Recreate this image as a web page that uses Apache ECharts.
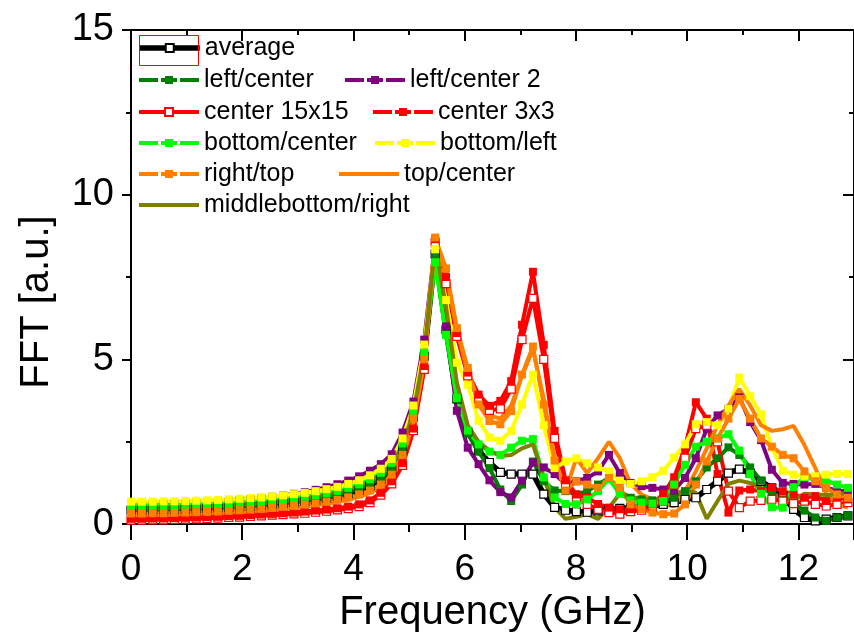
<!DOCTYPE html>
<html>
<head>
<meta charset="utf-8">
<title>FFT spectra</title>
<script src="https://cdn.jsdelivr.net/npm/echarts@6/dist/echarts.min.js"></script>
<style>
  html, body { margin: 0; padding: 0; background: #fff; }
  #chart { width: 854px; height: 638px; }
</style>
</head>
<body>
<div id="chart"></div>
<script>
// Frequency samples (GHz)
const freqGHz = [
  0, 0.195, 0.391, 0.586, 0.781, 0.977, 1.172, 1.367, 1.563, 1.758,
  1.953, 2.148, 2.344, 2.539, 2.734, 2.93, 3.125, 3.32, 3.516, 3.711,
  3.906, 4.102, 4.297, 4.492, 4.688, 4.883, 5.078, 5.273, 5.469, 5.664,
  5.859, 6.055, 6.25, 6.445, 6.641, 6.836, 7.031, 7.227, 7.422, 7.617,
  7.813, 8.008, 8.203, 8.398, 8.594, 8.789, 8.984, 9.18, 9.375, 9.57,
  9.766, 9.961, 10.156, 10.352, 10.547, 10.742, 10.938, 11.133, 11.328, 11.523,
  11.719, 11.914, 12.109, 12.305, 12.5, 12.695, 12.891
];

// FFT amplitude per probe position [a.u.]
const average = [
  0.42,0.42,0.43,0.43,0.44,0.45,0.46,0.47,0.49,0.50,
  0.52,0.54,0.56,0.59,0.62,0.65,0.69,0.73,0.78,0.84,
  0.92,1.02,1.16,1.35,1.65,2.25,3.25,5.10,8.20,5.90,
  3.80,2.80,2.23,1.87,1.57,1.52,1.52,1.52,0.91,0.51,
  0.42,0.38,0.36,0.40,0.45,0.48,0.50,0.52,0.55,0.60,
  0.65,0.75,0.80,1.05,1.30,1.55,1.67,1.55,1.30,1.10,
  0.85,0.45,0.20,0.10,0.15,0.20,0.25
];
const leftCenter = [
  0.45,0.45,0.46,0.46,0.47,0.48,0.49,0.50,0.52,0.53,
  0.55,0.57,0.60,0.62,0.65,0.68,0.72,0.77,0.82,0.89,
  0.97,1.07,1.21,1.40,1.70,2.30,3.30,5.10,8.10,5.90,
  3.80,2.75,2.20,1.70,1.05,0.70,1.20,1.90,1.30,1.02,
  1.00,0.90,1.00,1.20,1.40,1.00,0.80,0.75,0.72,0.72,
  0.80,1.00,1.30,1.72,2.00,2.33,2.10,1.72,1.32,0.92,
  0.75,0.61,0.41,0.20,0.10,0.20,0.25
];
const leftCenter2 = [
  0.58,0.58,0.59,0.60,0.61,0.62,0.64,0.66,0.68,0.70,
  0.73,0.76,0.79,0.83,0.87,0.92,0.97,1.04,1.12,1.21,
  1.32,1.45,1.62,1.82,2.12,2.78,3.72,5.60,8.50,6.00,
  3.44,2.32,1.82,1.33,0.97,0.81,1.32,1.87,1.72,1.52,
  1.22,1.30,1.40,1.60,2.10,1.55,1.25,1.15,1.10,1.05,
  1.02,1.40,2.00,2.90,3.30,3.50,3.85,3.10,2.55,1.65,
  1.25,1.22,1.20,1.22,1.10,1.02,1.00
];
const center15x15 = [
  0.12,0.12,0.13,0.13,0.14,0.15,0.16,0.17,0.18,0.20,
  0.21,0.23,0.25,0.27,0.29,0.31,0.33,0.36,0.39,0.43,
  0.47,0.53,0.65,0.88,1.22,1.78,2.84,4.70,8.55,7.30,
  5.70,4.50,3.80,3.45,3.50,4.10,5.60,6.85,5.00,2.60,
  1.20,0.80,0.60,0.45,0.35,0.30,0.38,0.42,0.50,0.70,
  1.20,2.00,2.90,3.00,2.50,1.00,0.50,0.70,0.72,0.75,
  0.70,0.62,0.70,0.60,0.55,0.60,0.65
];
const center3x3 = [
  0.16,0.16,0.17,0.17,0.18,0.19,0.20,0.21,0.22,0.24,
  0.25,0.27,0.29,0.31,0.33,0.35,0.38,0.41,0.44,0.48,
  0.53,0.60,0.72,0.95,1.30,1.85,2.90,4.80,8.65,7.50,
  5.80,4.60,3.93,3.59,3.74,4.34,6.05,7.66,5.44,2.83,
  1.33,0.90,0.80,0.61,0.50,0.45,0.45,0.50,0.60,0.92,
  1.42,2.33,3.70,3.20,1.52,0.35,1.02,1.05,1.00,1.10,
  1.00,0.90,0.80,0.85,0.70,0.80,0.75
];
const bottomCenter = [
  0.55,0.55,0.56,0.56,0.57,0.58,0.59,0.60,0.61,0.63,
  0.65,0.67,0.70,0.72,0.75,0.79,0.83,0.88,0.94,1.01,
  1.10,1.21,1.36,1.56,1.86,2.45,3.40,5.20,7.95,5.74,
  3.83,2.84,2.42,2.20,2.10,2.32,2.53,2.58,1.42,0.81,
  0.61,0.60,0.75,1.00,1.37,0.92,0.72,0.65,0.62,0.70,
  1.20,1.80,2.35,2.50,2.60,2.73,2.23,1.52,0.92,0.51,
  0.50,1.12,1.42,1.35,1.32,1.20,1.10
];
const bottomLeft = [
  0.68,0.68,0.68,0.69,0.69,0.70,0.71,0.72,0.73,0.75,
  0.77,0.79,0.81,0.84,0.87,0.91,0.95,1.00,1.06,1.13,
  1.22,1.33,1.48,1.68,1.98,2.60,3.60,5.45,8.35,6.80,
  4.90,4.23,3.14,2.63,2.53,2.83,3.63,4.54,3.00,1.70,
  1.90,2.00,1.85,1.72,1.60,1.32,1.22,1.30,1.42,1.62,
  2.02,2.42,3.03,3.10,3.00,3.50,4.45,3.88,3.33,2.33,
  1.62,1.50,1.45,1.45,1.50,1.52,1.52
];
const rightTop = [
  0.32,0.32,0.33,0.33,0.34,0.35,0.36,0.37,0.38,0.40,
  0.42,0.44,0.46,0.49,0.52,0.55,0.59,0.63,0.68,0.74,
  0.81,0.90,1.02,1.20,1.50,2.10,3.20,5.00,8.70,7.76,
  5.95,4.74,3.63,3.13,3.03,3.43,4.54,5.39,3.63,1.93,
  1.02,1.30,1.20,1.10,1.40,1.10,0.60,0.45,0.35,0.30,
  0.32,0.60,1.20,1.90,2.60,3.20,3.80,3.20,2.60,2.35,
  2.10,2.00,1.60,1.30,1.10,0.90,0.80
];
const topCenter = [
  0.28,0.28,0.29,0.29,0.30,0.31,0.32,0.33,0.34,0.36,
  0.37,0.39,0.41,0.44,0.46,0.49,0.53,0.57,0.61,0.67,
  0.74,0.83,0.95,1.12,1.42,2.00,3.10,4.90,8.60,7.60,
  5.90,4.60,3.70,3.30,3.20,3.60,4.50,5.30,3.80,2.00,
  1.00,2.00,1.55,2.00,2.50,2.00,1.22,0.90,0.75,0.60,
  0.55,1.00,1.60,2.30,3.00,3.60,4.10,3.60,3.00,2.83,
  2.88,2.98,2.40,1.70,0.92,0.60,0.50
];
const middleBottomRight = [
  0.48,0.48,0.49,0.49,0.50,0.51,0.52,0.53,0.55,0.56,
  0.58,0.61,0.63,0.66,0.69,0.73,0.77,0.82,0.88,0.95,
  1.04,1.15,1.30,1.50,1.80,2.40,3.40,5.20,8.45,6.60,
  4.30,3.00,2.50,2.23,2.07,2.10,2.30,2.42,1.40,0.51,
  0.16,0.22,0.30,0.16,0.50,0.92,0.82,0.78,0.72,0.80,
  0.92,1.02,0.95,0.16,0.70,1.22,1.32,1.25,1.10,0.92,
  0.80,0.72,0.92,0.90,0.88,0.90,0.95
];

const FONT = '"Liberation Sans", Arial, Helvetica, sans-serif';
// dash-dot pattern used for the legend keys of the dashed probes
const DASH_DOT = [19, 3, 16, 3];

// name, values, colour, legend dash, marker ('filled' | 'open' | null), line width
const seriesSpec = [
  ['average',            average,           '#000000', 'solid',  'open',   5.5],
  ['left/center',        leftCenter,        '#008000', DASH_DOT, 'filled', 4],
  ['left/center 2',      leftCenter2,       '#800080', DASH_DOT, 'filled', 4],
  ['center 15x15',       center15x15,       '#ff0000', 'solid',  'open',   4],
  ['center 3x3',         center3x3,         '#ff0000', DASH_DOT, 'filled', 4],
  ['bottom/center',      bottomCenter,      '#00ff00', DASH_DOT, 'filled', 4],
  ['bottom/left',        bottomLeft,        '#ffff00', DASH_DOT, 'filled', 4],
  ['right/top',          rightTop,          '#ff8000', DASH_DOT, 'filled', 4],
  ['top/center',         topCenter,         '#ff8000', 'solid',  null,     4],
  ['middlebottom/right', middleBottomRight, '#808000', 'solid',  null,     4]
];

const series = seriesSpec.map(([name, values, color, dash, marker, width]) => ({
  name,
  type: 'line',
  data: freqGHz.map((f, i) => [f, values[i]]),
  symbol: marker ? 'rect' : 'none',
  symbolSize: 8,
  showSymbol: !!marker,
  lineStyle: { color, width, type: 'solid' },
  itemStyle: marker === 'open'
    ? { color: '#ffffff', borderColor: color, borderWidth: 1.2 }
    : { color, borderWidth: 0 },
  emphasis: { disabled: true },
  animation: false
}));

// legend entries: [name, icon left x, row centre y]
const legendLayout = [
  ['average', 137, 48],
  ['left/center', 137, 80],
  ['left/center 2', 343, 80],
  ['center 15x15', 137, 112],
  ['center 3x3', 371, 112],
  ['bottom/center', 137, 143],
  ['bottom/left', 373, 143],
  ['right/top', 137, 174],
  ['top/center', 337, 174],
  ['middlebottom/right', 137, 205]
];
const legend = legendLayout.map(([name, x, y]) => {
  const spec = seriesSpec.find(s => s[0] === name);
  const item = { name, lineStyle: { type: spec[3] } };
  if (!spec[4]) item.itemStyle = { opacity: 0 };
  return {
    data: [item],
    left: x,
    top: y - 13,
    orient: 'horizontal',
    padding: 0,
    itemGap: 0,
    itemWidth: 60,
    itemHeight: 10,
    selectedMode: false,
    lineStyle: { width: 'inherit' },
    textStyle: { fontFamily: FONT, fontSize: 25, color: '#000', lineHeight: 26 }
  };
});

const black = '#000';
const option = {
  backgroundColor: '#ffffff',
  animation: false,
  textStyle: { fontFamily: FONT },
  grid: { left: 131, right: -7, top: 30, bottom: 111, containLabel: false },
  legend,
  graphic: [{
    type: 'rect', left: 137, top: 33, z: 100,
    shape: { width: 59, height: 30 },
    style: { fill: 'none', stroke: '#ff0000', lineWidth: 1 }
  }],
  xAxis: [
    {
      type: 'value', min: 0, max: 13, interval: 2, position: 'bottom',
      name: 'Frequency (GHz)', nameLocation: 'middle', nameGap: 58,
      nameTextStyle: { fontFamily: FONT, fontSize: 40, color: black },
      axisLine: { show: true, lineStyle: { color: black, width: 2 } },
      axisTick: { show: true, inside: false, length: 16, lineStyle: { color: black, width: 2 } },
      minorTick: { show: true, splitNumber: 2, length: 8, lineStyle: { color: black, width: 2 } },
      splitLine: { show: false },
      axisLabel: { fontFamily: FONT, fontSize: 37, color: black, margin: 27, showMaxLabel: false }
    },
    {
      type: 'value', min: 0, max: 13, interval: 2, position: 'top',
      axisLine: { show: true, onZero: false, lineStyle: { color: black, width: 2 } },
      axisTick: { show: true, inside: true, length: 11, lineStyle: { color: black, width: 2 } },
      minorTick: { show: true, splitNumber: 2, length: 5, lineStyle: { color: black, width: 2 } },
      splitLine: { show: false },
      axisLabel: { show: false }
    }
  ],
  yAxis: [
    {
      type: 'value', min: 0, max: 15, interval: 5, position: 'left',
      name: 'FFT [a.u.]', nameLocation: 'middle', nameGap: 74,
      nameTextStyle: { fontFamily: FONT, fontSize: 40, color: black, padding: [0, 50, 0, 0] },
      axisLine: { show: true, onZero: false, lineStyle: { color: black, width: 2 } },
      axisTick: { show: true, inside: false, length: 9, lineStyle: { color: black, width: 2 } },
      minorTick: { show: true, splitNumber: 2, length: 5, lineStyle: { color: black, width: 2 } },
      splitLine: { show: false },
      axisLabel: { fontFamily: FONT, fontSize: 38, color: black, margin: 17 }
    },
    {
      type: 'value', min: 0, max: 15, interval: 5, position: 'right',
      axisLine: { show: true, onZero: false, lineStyle: { color: black, width: 2 } },
      axisTick: { show: true, inside: true, length: 11, lineStyle: { color: black, width: 2 } },
      minorTick: { show: true, splitNumber: 2, length: 5, lineStyle: { color: black, width: 2 } },
      splitLine: { show: false },
      axisLabel: { show: false }
    }
  ],
  series
};

const chart = echarts.init(document.getElementById('chart'), null, { renderer: 'canvas' });
chart.setOption(option);
</script>
</body>
</html>
